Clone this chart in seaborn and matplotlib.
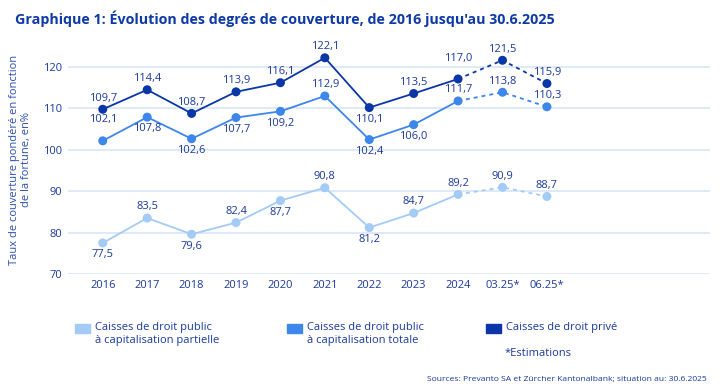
import numpy as np
import pandas as pd
import seaborn as sns
import matplotlib.pyplot as plt
from matplotlib.patches import Rectangle

# Données
periodes = ['2016', '2017', '2018', '2019', '2020', '2021', '2022', '2023', '2024', '03.25*', '06.25*']
partielle = [77.5, 83.5, 79.6, 82.4, 87.7, 90.8, 81.2, 84.7, 89.2, 90.9, 88.7]
totale = [102.1, 107.8, 102.6, 107.7, 109.2, 112.9, 102.4, 106.0, 111.7, 113.8, 110.3]
prive = [109.7, 114.4, 108.7, 113.9, 116.1, 122.1, 110.1, 113.5, 117.0, 121.5, 115.9]

# position des étiquettes (a = au-dessus, b = en dessous)
pos_partielle = ['b', 'a', 'b', 'a', 'b', 'a', 'b', 'a', 'a', 'a', 'a']
pos_totale = ['A', 'b', 'b', 'b', 'b', 'a', 'b', 'b', 'a', 'a', 'a']
pos_prive = ['a', 'a', 'a', 'a', 'a', 'a', 'b', 'a', 'A', 'a', 'a']

noms = ['Caisses de droit public\nà capitalisation partielle',
        'Caisses de droit public\nà capitalisation totale',
        'Caisses de droit privé']
couleurs = ['#a3cbf6', '#3d86ea', '#0a36a8']
texte = '#1a3a9c'

sns.set_theme(style='white')
plt.rcParams['font.family'] = ['Open Sans', 'DejaVu Sans']

fig = plt.figure(figsize=(7.2, 3.91), dpi=100)
ax = fig.add_axes([0.094, 0.299, 0.892, 0.584])

x = np.arange(len(periodes))
n_reel = 9  # 2016-2024 réels, ensuite estimations

for serie, pos, col in zip([partielle, totale, prive], [pos_partielle, pos_totale, pos_prive], couleurs):
    df = pd.DataFrame({'x': x, 'y': serie})
    sns.lineplot(data=df.iloc[:n_reel], x='x', y='y', color=col, lw=1.3, ax=ax, zorder=3)
    sns.lineplot(data=df.iloc[n_reel - 1:], x='x', y='y', color=col, lw=1.3, ax=ax,
                 linestyle=(0, (2.2, 2.2)), zorder=3)
    sns.scatterplot(data=df, x='x', y='y', color=col, s=42, edgecolor='none', ax=ax, zorder=4)
    for xi, yi, p in zip(x, serie, pos):
        dy = {'a': 8, 'b': -8.5, 'A': 15}[p]
        ax.annotate(f'{yi:.1f}'.replace('.', ','), (xi, yi), xytext=(0, dy),
                    textcoords='offset points', ha='center', va='center',
                    fontsize=8, color=texte, zorder=5)

ax.set_xlim(-0.79, 13.67)
ax.set_ylim(70, 125)
ax.set_yticks([70, 80, 90, 100, 110, 120])
ax.set_xticks(x)
ax.set_xticklabels(periodes)
ax.set_xlabel('')
ax.set_ylabel('Taux de couverture pondéré en fonction\nde la fortune, en%', color='#2b4fb0',
              fontsize=8, labelpad=8, linespacing=1.1)
ax.tick_params(axis='both', length=0, labelsize=8, labelcolor=texte, pad=4)
ax.grid(axis='y', color='#d8e6f6', lw=1.2)
ax.set_axisbelow(True)
for s in ax.spines.values():
    s.set_visible(False)

fig.text(0.021, 0.952, "Graphique 1: Évolution des degrés de couverture, de 2016 jusqu'au 30.6.2025",
         fontsize=10.3, fontweight='bold', color='#0d3aa6', va='center')

# Légende
leg_x = [75, 287, 486]
for lx, nom, col in zip(leg_x, noms, couleurs):
    fig.patches.append(Rectangle((lx / 720, 1 - 333 / 391), 15 / 720, 9 / 391,
                                 transform=fig.transFigure, color=col))
    fig.text((lx + 20) / 720, 1 - 322 / 391, nom, fontsize=8, color=texte,
             va='top', linespacing=1.25)
fig.text(505 / 720, 1 - 354 / 391, '*Estimations', fontsize=8, color=texte, va='center')
fig.text(707 / 720, 1 - 380 / 391,
         'Sources: Prevanto SA et Zürcher Kantonalbank; situation au: 30.6.2025',
         fontsize=6.1, color=texte, ha='right', va='center')

fig.savefig('out.png', dpi=100)
